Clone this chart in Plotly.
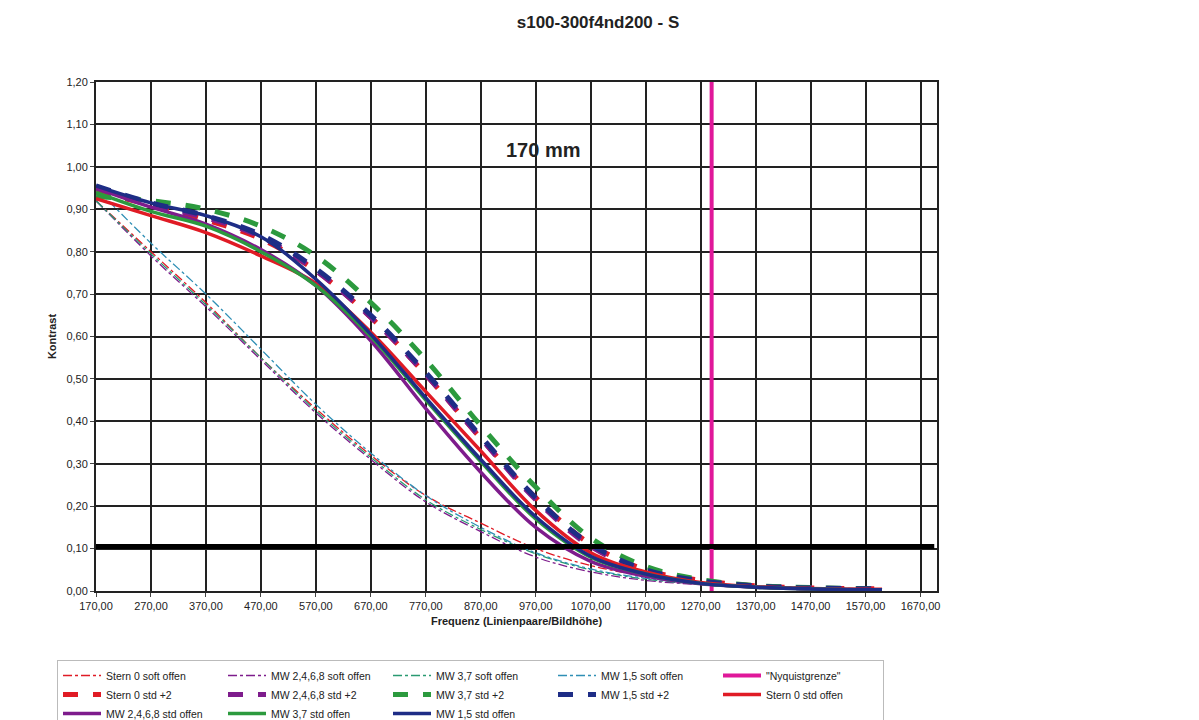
import plotly.graph_objects as go

# Frequenz (Linienpaare/Bildhöhe)
freq = [170, 270, 370, 470, 570, 670, 770, 870, 970, 1070, 1170, 1270, 1370, 1470, 1600]

# soft offen (thin dash-dot)
stern0_soft = [0.92, 0.80, 0.68, 0.55, 0.43, 0.32, 0.225, 0.16, 0.10, 0.06, 0.035, 0.02, 0.012, 0.008, 0.005]
mw2468_soft = [0.92, 0.79, 0.67, 0.545, 0.42, 0.31, 0.21, 0.14, 0.08, 0.045, 0.025, 0.015, 0.01, 0.006, 0.004]
mw37_soft = [0.92, 0.795, 0.675, 0.55, 0.425, 0.315, 0.215, 0.145, 0.088, 0.05, 0.028, 0.016, 0.01, 0.006, 0.004]
mw15_soft = [0.95, 0.82, 0.70, 0.57, 0.44, 0.325, 0.225, 0.15, 0.09, 0.052, 0.03, 0.017, 0.011, 0.007, 0.005]

# std +2 (thick dashed)
stern0_p2 = [0.94, 0.91, 0.875, 0.83, 0.755, 0.645, 0.51, 0.36, 0.22, 0.11, 0.05, 0.025, 0.012, 0.007, 0.005]
mw2468_p2 = [0.95, 0.91, 0.88, 0.835, 0.755, 0.645, 0.51, 0.36, 0.215, 0.105, 0.048, 0.023, 0.012, 0.007, 0.005]
mw37_p2 = [0.93, 0.92, 0.90, 0.86, 0.79, 0.68, 0.545, 0.39, 0.245, 0.125, 0.058, 0.027, 0.013, 0.008, 0.005]
mw15_p2 = [0.955, 0.915, 0.885, 0.84, 0.76, 0.65, 0.515, 0.365, 0.22, 0.11, 0.05, 0.024, 0.012, 0.007, 0.005]

# std offen (thick solid)
stern0_std = [0.925, 0.885, 0.845, 0.79, 0.725, 0.61, 0.47, 0.33, 0.19, 0.09, 0.045, 0.02, 0.01, 0.006, 0.004]
mw2468_std = [0.95, 0.905, 0.865, 0.805, 0.72, 0.59, 0.43, 0.28, 0.15, 0.07, 0.035, 0.017, 0.009, 0.005, 0.003]
mw37_std = [0.94, 0.895, 0.86, 0.80, 0.72, 0.60, 0.45, 0.305, 0.17, 0.08, 0.04, 0.018, 0.009, 0.005, 0.003]
mw15_std = [0.955, 0.915, 0.885, 0.835, 0.735, 0.605, 0.455, 0.31, 0.175, 0.082, 0.04, 0.018, 0.009, 0.005, 0.003]

nyquist_x = [1290, 1290]
nyquist_y = [0, 1.2]
limit_x = [170, 1695]
limit_y = [0.105, 0.105]

RED = "#e01b25"
PURPLE = "#7e1c8c"
GREEN = "#2c9a3e"
BLUE = "#1e2d86"
TEAL = "#2f8fb5"
SEAGREEN = "#2a9a72"
PINK = "#e0189a"

fig = go.Figure()


def add(name, y, color, kind):
    if kind == "soft":
        line = dict(color=color, width=1.3, dash="dashdot", shape="spline")
    elif kind == "p2":
        line = dict(color=color, width=5, dash="dash", shape="spline")
    else:
        line = dict(color=color, width=3.5, shape="spline")
    fig.add_trace(go.Scatter(x=freq, y=y, mode="lines", name=name, line=line))


add("Stern 0 soft offen", stern0_soft, RED, "soft")
add("MW 2,4,6,8 soft offen", mw2468_soft, PURPLE, "soft")
add("MW 3,7 soft offen", mw37_soft, SEAGREEN, "soft")
add("MW 1,5 soft offen", mw15_soft, TEAL, "soft")
fig.add_trace(go.Scatter(x=nyquist_x, y=nyquist_y, mode="lines", name="\"Nyquistgrenze\"",
                         line=dict(color=PINK, width=4)))
add("Stern 0 std +2", stern0_p2, RED, "p2")
add("MW 2,4,6,8 std +2", mw2468_p2, PURPLE, "p2")
add("MW 3,7 std +2", mw37_p2, GREEN, "p2")
add("MW 1,5 std +2", mw15_p2, BLUE, "p2")
add("Stern 0 std offen", stern0_std, RED, "std")
add("MW 2,4,6,8 std offen", mw2468_std, PURPLE, "std")
add("MW 3,7 std offen", mw37_std, GREEN, "std")
add("MW 1,5 std offen", mw15_std, BLUE, "std")
fig.add_trace(go.Scatter(x=limit_x, y=limit_y, mode="lines", showlegend=False,
                         line=dict(color="black", width=5)))

fig.add_annotation(x=985, y=1.04, text="<b>170 mm</b>", showarrow=False,
                   font=dict(size=20, color="#222"))

fig.update_layout(
    width=1199, height=720,
    paper_bgcolor="white", plot_bgcolor="white",
    font=dict(family="Liberation Sans, Arial", size=11, color="#222"),
    separators=",.",
    title=dict(text="<b>s100-300f4nd200 - S</b>", x=590 / 1199, xanchor="center",
               y=1 - 14 / 720, yanchor="middle", font=dict(size=17, color="#222")),
    margin=dict(l=88, r=270, t=74, b=137, autoexpand=False),
    legend=dict(orientation="h", xref="container", yref="container", x=49 / 1199, y=1 - 652 / 720,
                xanchor="left", yanchor="top",
                entrywidth=112, entrywidthmode="pixels", bordercolor="#bbb", borderwidth=1,
                font=dict(size=10.5), tracegroupgap=0, itemwidth=38),
    showlegend=True,
)
fig.update_xaxes(range=[170, 1700], tickvals=list(range(170, 1671, 100)), tickformat=".2f",
                 showgrid=True, gridcolor="#222", gridwidth=1.5, showline=True,
                 linecolor="#222", linewidth=2, mirror=True, ticks="outside", ticklen=4,
                 zeroline=False, tickfont=dict(size=11),
                 title=dict(text="<b>Frequenz (Linienpaare/Bildhöhe)</b>", font=dict(size=11), standoff=6))
fig.update_yaxes(range=[0, 1.2], dtick=0.1, tickformat=".2f",
                 showgrid=True, gridcolor="#222", gridwidth=1.5, showline=True,
                 linecolor="#222", linewidth=2, mirror=True, ticks="outside", ticklen=4,
                 zeroline=False, tickfont=dict(size=11),
                 title=dict(text="<b>Kontrast</b>", font=dict(size=11), standoff=8))

fig.write_html("out.html")
